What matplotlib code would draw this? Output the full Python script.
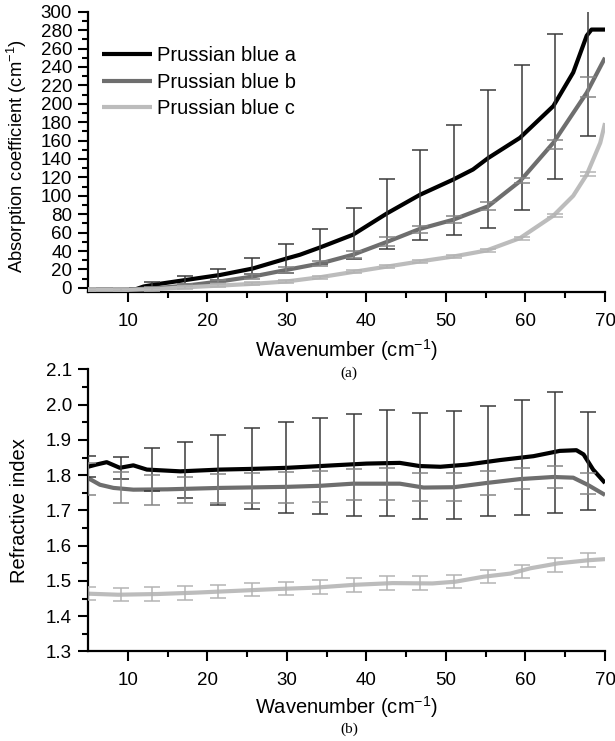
import numpy as np
import matplotlib
matplotlib.use("Agg")
import matplotlib.pyplot as plt

plt.rcParams['font.family'] = ['Liberation Sans', 'DejaVu Sans']
plt.rcParams['mathtext.fontset'] = 'custom'
plt.rcParams['mathtext.rm'] = 'Liberation Sans'
plt.rcParams['mathtext.it'] = 'Liberation Sans:italic'
plt.rcParams['mathtext.bf'] = 'Liberation Sans:bold'

labels = ["Prussian blue a", "Prussian blue b", "Prussian blue c"]

# ---- (a) absorption coefficient ----
abs_a_x = [5, 8, 11, 12, 14, 17.4, 21.6, 25.7, 30, 31.65, 34.2, 38.3, 42.6, 46.7, 50.9, 53.4, 55.3, 59.3, 63.5, 66.0, 67.7, 68.3, 70]
abs_a_y = [-2, -2, -1.5, 1.5, 4.4, 8.7, 14, 21, 32, 36, 44, 57.7, 81, 101, 117.6, 128.6, 141, 163, 197.5, 234, 274, 280.6, 280.6]
abs_b_x = [5, 10, 14, 17.4, 21.6, 25.7, 30, 34.2, 38.3, 42.6, 46.7, 50.9, 55.3, 59.3, 63.5, 67.7, 70]
abs_b_y = [-2, -2, 0, 2.5, 7, 12.3, 19.6, 26.5, 36, 50, 64, 74, 88.6, 115.8, 157.6, 212, 250]
abs_c_x = [5, 10, 13.2, 17, 21.6, 26, 30, 34.2, 40, 46.7, 50.9, 55.1, 59.3, 63.5, 66, 67.7, 69.4, 70]
abs_c_y = [-2, -2, -1.5, 0.5, 2.5, 4.5, 7, 11.6, 19.6, 28.7, 34, 40.6, 54, 78.4, 100, 123, 157.6, 179]

err_x = [5.0, 9.2, 13.1, 17.2, 21.4, 25.6, 29.9, 34.2, 38.4, 42.6, 46.8, 51.0, 55.3, 59.5, 63.7, 67.9]
abs_a_mid = [-2, -2, 3.8, 8.5, 15, 23.5, 32, 45, 59, 80, 101, 117, 140, 163.5, 197, 275]
abs_a_half = [0.5, 0.8, 2.4, 4.2, 6, 8.5, 16, 19, 28, 38, 49, 60, 75, 78.5, 79, 110]
abs_b_mid = [-2, -2, 0, 2.5, 7, 12.3, 19.6, 26.5, 36, 50, 63.5, 74, 89, 116.7, 156, 218]
abs_b_half = [0.5, 0.8, 1, 1.5, 2, 2.5, 3, 3, 3.6, 5, 4, 4, 4.5, 3, 5, 11]
abs_c_mid = [-2, -2, -1.5, 0.5, 2.5, 4.5, 7, 11.6, 17.5, 23, 29, 34, 41, 54, 78.4, 124]
abs_c_half = [1.5, 1.5, 1.5, 1.5, 1.5, 1.5, 1.5, 1.5, 1.5, 1.5, 1.5, 1.5, 1.5, 1.5, 1.5, 2]

# ---- (b) refractive index ----
n_a_x = [5, 6, 7.35, 9.0, 10.7, 12.4, 16.6, 21.6, 25.7, 30, 34.2, 35.8, 40, 44.2, 46.7, 49.3, 52.6, 56.8, 61, 64.3, 66.4, 67.3, 68.5, 70]
n_a_y = [1.824, 1.830, 1.837, 1.821, 1.828, 1.816, 1.811, 1.816, 1.818, 1.821, 1.826, 1.828, 1.833, 1.835, 1.826, 1.824, 1.830, 1.843, 1.854, 1.869, 1.871, 1.859, 1.816, 1.778]
n_b_x = [5, 6.5, 8.2, 10.7, 15, 21.6, 30, 34.2, 38.3, 44.2, 47.2, 51, 55.1, 59.3, 63.5, 66, 67.8, 70]
n_b_y = [1.792, 1.773, 1.764, 1.759, 1.760, 1.764, 1.767, 1.770, 1.776, 1.776, 1.765, 1.766, 1.778, 1.789, 1.795, 1.793, 1.773, 1.744]
n_c_x = [5.0, 8.8, 13.7, 18.6, 23.6, 28.5, 33.5, 38.4, 43.3, 48.3, 51.2, 54.7, 58.1, 60.6, 64.1, 68.0, 70]
n_c_y = [1.464, 1.461, 1.463, 1.467, 1.472, 1.477, 1.481, 1.489, 1.494, 1.493, 1.498, 1.512, 1.521, 1.536, 1.55, 1.559, 1.562]

n_a_mid = [1.824, 1.821, 1.816, 1.814, 1.815, 1.818, 1.822, 1.826, 1.83, 1.834, 1.826, 1.83, 1.84, 1.85, 1.865, 1.84]
n_a_half = [0.03, 0.032, 0.062, 0.079, 0.1, 0.115, 0.128, 0.137, 0.145, 0.15, 0.15, 0.153, 0.155, 0.163, 0.171, 0.14]
n_b_mid = [1.79, 1.765, 1.758, 1.758, 1.762, 1.764, 1.766, 1.769, 1.774, 1.775, 1.767, 1.766, 1.778, 1.79, 1.795, 1.777]
n_b_half = [0.045, 0.043, 0.042, 0.038, 0.042, 0.042, 0.044, 0.044, 0.043, 0.045, 0.04, 0.04, 0.034, 0.03, 0.03, 0.03]
n_c_mid = [1.464, 1.462, 1.463, 1.466, 1.471, 1.475, 1.478, 1.483, 1.489, 1.494, 1.494, 1.499, 1.512, 1.527, 1.545, 1.56]
n_c_half = [0.019] * 16

line_colors = ['#000000', '#6e6e6e', '#bcbcbc']
err_colors = ['#3a3a3a', '#858585', '#b4b4b4']

fig = plt.figure(figsize=(6.15, 7.41), dpi=100)
ax1 = fig.add_axes([0.1431, 0.6053, 0.8407, 0.3789])
ax2 = fig.add_axes([0.1431, 0.1208, 0.8407, 0.3806])

TICK_FS = 13.5
LAB_FS = 14.5


def style(ax):
    for s in ['top', 'right']:
        ax.spines[s].set_visible(False)
    for s in ['left', 'bottom']:
        ax.spines[s].set_linewidth(1.6)
    ax.tick_params(which='major', direction='out', length=7.5, width=1.5,
                   labelsize=TICK_FS, pad=4)
    ax.tick_params(axis='x', which='major', pad=7.5)
    ax.tick_params(which='minor', direction='out', length=4, width=1.5)
    ax.set_xlim(5, 70)
    ax.set_xticks([10, 20, 30, 40, 50, 60, 70])
    ax.set_xticks([15, 25, 35, 45, 55, 65], minor=True)


series_abs = [(abs_a_x, abs_a_y, abs_a_mid, abs_a_half),
              (abs_b_x, abs_b_y, abs_b_mid, abs_b_half),
              (abs_c_x, abs_c_y, abs_c_mid, abs_c_half)]
for i, (xs, ys, m, h) in enumerate(series_abs):
    ax1.plot(xs, ys, color=line_colors[i], lw=3.0, label=labels[i],
             solid_capstyle='butt', zorder=2 + i)
    ax1.errorbar(err_x, m, yerr=h, fmt='none', ecolor=err_colors[i],
                 elinewidth=1.1, capsize=5.8, capthick=1.1, zorder=2 + i)
style(ax1)
ax1.set_ylim(-5, 300)
ax1.set_yticks(np.arange(0, 301, 20))
ax1.set_yticks(np.arange(10, 300, 20), minor=True)
ax1.set_ylabel(r'Absorption coefficient (cm$^{-1}$)', fontsize=13.2)
ax1.yaxis.set_label_coords(-0.114, 0.485)
ax1.set_xlabel(r'Wavenumber (cm$^{-1}$)', fontsize=LAB_FS)
ax1.xaxis.set_label_coords(0.5, -0.16)
leg = ax1.legend(loc='upper left', bbox_to_anchor=(0.0, 0.927), frameon=False,
                 fontsize=LAB_FS, handlelength=2.5, handletextpad=0.25,
                 labelspacing=0.37, borderaxespad=0.3)

series_n = [(n_a_x, n_a_y, n_a_mid, n_a_half),
            (n_b_x, n_b_y, n_b_mid, n_b_half),
            (n_c_x, n_c_y, n_c_mid, n_c_half)]
for i, (xs, ys, m, h) in enumerate(series_n):
    ax2.plot(xs, ys, color=line_colors[i], lw=3.0, solid_capstyle='butt', zorder=2)
    ax2.errorbar(err_x, m, yerr=h, fmt='none', ecolor=err_colors[i],
                 elinewidth=1.1, capsize=5.8, capthick=1.1, zorder=3)
style(ax2)
ax2.set_ylim(1.3, 2.1)
ax2.set_yticks(np.round(np.arange(1.3, 2.101, 0.1), 2))
ax2.set_yticks(np.round(np.arange(1.35, 2.1, 0.1), 2), minor=True)
ax2.yaxis.set_major_formatter(matplotlib.ticker.FormatStrFormatter('%.1f'))
ax2.set_ylabel('Refractive index', fontsize=LAB_FS)
ax2.yaxis.set_label_coords(-0.114, 0.5)
ax2.set_xlabel(r'Wavenumber (cm$^{-1}$)', fontsize=LAB_FS)
ax2.xaxis.set_label_coords(0.5, -0.15)

fig.text(349 / 615, 1 - 373 / 741, '(a)', ha='center', va='center',
         fontsize=11, family='Liberation Serif')
fig.text(349 / 615, 1 - 729 / 741, '(b)', ha='center', va='center',
         fontsize=11, family='Liberation Serif')

fig.savefig('out.png', dpi=100)
